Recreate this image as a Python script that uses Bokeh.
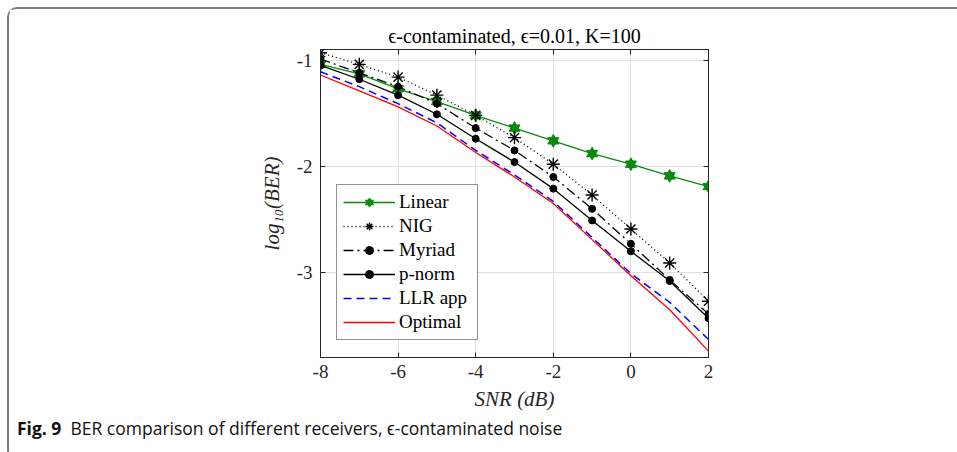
from bokeh.plotting import figure
from bokeh.layouts import column
from bokeh.models import (LinearAxis, FixedTicker, Legend, LegendItem, Range1d,
                          ColumnDataSource, Div)
from bokeh.embed import file_html
from bokeh.resources import INLINE

# ---------------- data ----------------
snr = [-8, -7, -6, -5, -4, -3, -2, -1, 0, 1, 2]
linear = [-1.04, -1.13, -1.27, -1.39, -1.52, -1.64, -1.76, -1.88, -1.98, -2.09, -2.19]
nig = [-0.93, -1.04, -1.16, -1.33, -1.52, -1.73, -1.98, -2.27, -2.59, -2.91, -3.27]
myriad = [-0.99, -1.12, -1.25, -1.41, -1.64, -1.85, -2.10, -2.40, -2.73, -3.07, -3.39]
pnorm = [-1.05, -1.18, -1.33, -1.51, -1.74, -1.96, -2.21, -2.51, -2.80, -3.08, -3.43]
llr_app = [-1.11, -1.25, -1.41, -1.59, -1.85, -2.08, -2.33, -2.67, -3.01, -3.28, -3.63]
optimal = [-1.14, -1.29, -1.44, -1.62, -1.87, -2.10, -2.35, -2.69, -3.03, -3.35, -3.74]

x_ticks = [-8, -6, -4, -2, 0, 2]
x_tick_labels = ["-8", "-6", "-4", "-2", "0", "2"]
y_ticks = [-3, -2, -1]
y_tick_labels = ["-3", "-2", "-1"]

title_text = "\u03f5-contaminated, \u03f5=0.01, K=100"
x_label = "SNR (dB)"
y_label = "log\u2081\u2080(BER)"
caption_bold = "Fig. 9"
caption_text = "BER comparison of different receivers, \u03f5-contaminated noise"

# ---------------- layout (page px) ----------------
OFF = 9                      # outer margin 7 + border 2
W, H = 957, 452
FL, FT, FW, FH = 320 - OFF, 49 - OFF, 388, 308
FIG_W = W - OFF
FIG_H = 411
CAP_H = 28

AX = "#262626"
SERIF = "Liberation Serif"

p = figure(frame_width=FW, frame_height=FH,
           min_border_left=FL, min_border_right=FIG_W - FL - FW,
           min_border_top=FT, min_border_bottom=FIG_H - FT - FH,
           x_range=Range1d(-8, 2), y_range=Range1d(-3.8, -0.9),
           output_backend="svg", toolbar_location=None,
           background_fill_color="white", border_fill_color="white")
p.outline_line_color = AX
p.outline_line_width = 1

p.title.text = title_text
p.title.align = "center"
p.title.text_font = SERIF
p.title.text_font_size = "20px"
p.title.text_font_style = "normal"
p.title.text_color = "black"
p.title.standoff = 6

xt = FixedTicker(ticks=x_ticks)
yt = FixedTicker(ticks=y_ticks)

def style_axis(ax, show_labels):
    ax.major_tick_in = 5
    ax.major_tick_out = 0
    ax.minor_tick_line_color = None
    ax.axis_line_color = AX
    ax.major_tick_line_color = AX
    ax.major_label_text_font = SERIF
    ax.major_label_text_font_size = "19px" if show_labels else "0px"
    ax.major_label_text_color = AX if show_labels else None
    if not show_labels:
        ax.major_label_standoff = 0

p.xaxis.ticker = xt
p.yaxis.ticker = yt
p.xaxis.major_label_overrides = dict(zip(x_ticks, x_tick_labels))
p.yaxis.major_label_overrides = dict(zip(y_ticks, y_tick_labels))
style_axis(p.xaxis[0], True)
style_axis(p.yaxis[0], True)
p.xaxis.major_label_standoff = 7
p.yaxis.major_label_standoff = 8

for ax, lab, st in ((p.xaxis[0], x_label, 6), (p.yaxis[0], y_label, 10)):
    ax.axis_label = lab
    ax.axis_label_text_font = SERIF
    ax.axis_label_text_font_style = "italic"
    ax.axis_label_text_font_size = "21px"
    ax.axis_label_text_color = AX
    ax.axis_label_standoff = st

top_ax = LinearAxis(ticker=xt)
right_ax = LinearAxis(ticker=yt)
style_axis(top_ax, False)
style_axis(right_ax, False)
p.add_layout(top_ax, "above")
p.add_layout(right_ax, "right")

p.xgrid.ticker = xt
p.ygrid.ticker = yt
p.xgrid.grid_line_color = "#e0e0e0"
p.ygrid.grid_line_color = "#e0e0e0"

# ---------------- series ----------------
src = ColumnDataSource(dict(x=snr, linear=linear, nig=nig, myriad=myriad,
                            pnorm=pnorm, llr=llr_app, opt=optimal))
GREEN = "#0a8a0a"
LW = 1.3

r_lin = p.line("x", "linear", source=src, line_color=GREEN, line_width=LW)
r_lin_a = p.scatter("x", "linear", source=src, marker="triangle", size=11,
                    fill_color=GREEN, line_color=GREEN)
r_lin_b = p.scatter("x", "linear", source=src, marker="inverted_triangle", size=11,
                    fill_color=GREEN, line_color=GREEN)

r_nig = p.line("x", "nig", source=src, line_color="black", line_width=LW, line_dash="1 3")
r_nig_m = p.scatter("x", "nig", source=src, marker="asterisk", size=13,
                    line_color="black", line_width=1.4)

r_myr = p.line("x", "myriad", source=src, line_color="black", line_width=LW,
               line_dash="10 4 2 4")
r_myr_m = p.scatter("x", "myriad", source=src, marker="circle", size=7,
                    fill_color="black", line_color="black")

r_pn = p.line("x", "pnorm", source=src, line_color="black", line_width=LW)
r_pn_m = p.scatter("x", "pnorm", source=src, marker="circle", size=7,
                   fill_color="black", line_color="black")

r_llr = p.line("x", "llr", source=src, line_color="#0000ff", line_width=1.5,
               line_dash="8 5")
r_opt = p.line("x", "opt", source=src, line_color="#ff0000", line_width=LW)

legend = Legend(items=[
    LegendItem(label="Linear", renderers=[r_lin, r_lin_a, r_lin_b]),
    LegendItem(label="NIG", renderers=[r_nig, r_nig_m]),
    LegendItem(label="Myriad", renderers=[r_myr, r_myr_m]),
    LegendItem(label="p-norm", renderers=[r_pn, r_pn_m]),
    LegendItem(label="LLR app", renderers=[r_llr]),
    LegendItem(label="Optimal", renderers=[r_opt]),
], location=(16, 17))
legend.label_text_font = SERIF
legend.label_text_font_size = "19px"
legend.label_text_color = "black"
legend.glyph_width = 52
legend.glyph_height = 20
legend.label_height = 20
legend.label_width = 72
legend.label_standoff = 4
legend.spacing = 2
legend.padding = 6
legend.margin = 0
legend.border_line_color = AX
legend.border_line_width = 1
legend.background_fill_color = "white"
legend.background_fill_alpha = 1
p.add_layout(legend, "center")

# ---------------- caption ----------------
cap = Div(text=f"<b>{caption_bold}</b>&nbsp;&nbsp;{caption_text}",
          width=FIG_W - 20, height=CAP_H,
          styles={"font-family": "'Open Sans', sans-serif", "font-size": "17.5px",
                  "color": "#111", "line-height": "20px", "padding-left": "3px",
                  "position": "relative", "top": "-7px"})

root = column(p, cap, spacing=0,
              styles={"border-top": "2px solid #7a7a7a",
                      "border-left": "2px solid #7a7a7a",
                      "border-bottom": "2px solid #7a7a7a",
                      "border-top-left-radius": "10px",
                      "border-bottom-left-radius": "10px",
                      "margin-top": "7px", "margin-left": "7px",
                      "background-color": "white"})

open("out.html", "w").write(file_html(root, INLINE))
